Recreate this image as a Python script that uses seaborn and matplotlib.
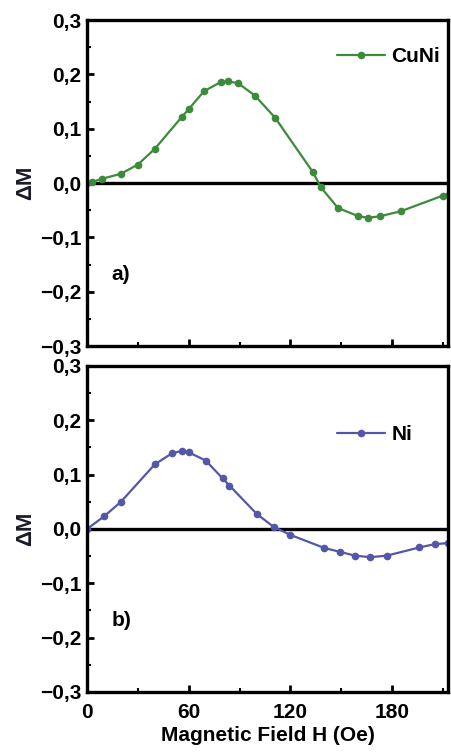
import numpy as np
import pandas as pd
import matplotlib
matplotlib.use("Agg")
import matplotlib.pyplot as plt
from matplotlib.ticker import MultipleLocator, FuncFormatter
import seaborn as sns

# dados
h_cuni = [0, 3, 9, 20, 30, 40, 56, 60, 69, 79, 83, 89, 99, 111, 133, 138, 148, 160, 166, 173, 185, 210, 214]
dm_cuni = [0.0, 0.002, 0.008, 0.017, 0.034, 0.063, 0.122, 0.136, 0.169, 0.186, 0.187, 0.184, 0.161, 0.120,
           0.021, -0.008, -0.046, -0.061, -0.064, -0.061, -0.052, -0.023, -0.019]

h_ni = [0, 10, 20, 40, 50, 56, 60, 70, 80, 84, 100, 110, 120, 140, 149, 158, 167, 177, 196, 205, 213]
dm_ni = [0.0, 0.023, 0.050, 0.119, 0.139, 0.144, 0.141, 0.126, 0.093, 0.080, 0.028, 0.004, -0.011,
         -0.035, -0.042, -0.049, -0.052, -0.049, -0.034, -0.028, -0.026]

series = [("CuNi", h_cuni, dm_cuni, "#3b8b3b", "a)"),
          ("Ni", h_ni, dm_ni, "#5457a8", "b)")]

sns.set_style("ticks")
plt.rcParams['font.family'] = ['Liberation Sans', 'DejaVu Sans']
plt.rcParams['font.weight'] = 'bold'
plt.rcParams['text.color'] = 'black'
plt.rcParams['axes.labelcolor'] = 'black'
plt.rcParams['xtick.color'] = 'black'
plt.rcParams['ytick.color'] = 'black'
plt.rcParams['axes.edgecolor'] = 'black'

fig = plt.figure(figsize=(4.52, 7.56), dpi=100)
posicoes = [[0.1925, 0.5423, 0.799, 0.4312], [0.1925, 0.0847, 0.799, 0.4312]]
legendas = [(1.028, 0.975), (0.952, 0.877)]

virgula = FuncFormatter(lambda v, p: ("%.1f" % v).replace(".", ",").replace("-", "\u2212"))

for i, (nome, h, dm, cor, letra) in enumerate(series):
    ax = fig.add_axes(posicoes[i])
    df = pd.DataFrame({"H": h, "dM": dm})
    sns.lineplot(data=df, x="H", y="dM", ax=ax, color=cor, marker="o", markersize=5.5,
                 markeredgewidth=0, linewidth=1.6, label=nome)
    ax.axhline(0, color="black", linewidth=2.4, zorder=1)
    ax.set_xlim(0, 213)
    ax.set_ylim(-0.3, 0.3)
    ax.yaxis.set_major_locator(MultipleLocator(0.1))
    ax.yaxis.set_minor_locator(MultipleLocator(0.05))
    ax.xaxis.set_major_locator(MultipleLocator(60))
    ax.xaxis.set_minor_locator(MultipleLocator(30))
    ax.yaxis.set_major_formatter(virgula)
    ax.tick_params(which="major", direction="in", length=5, width=2, labelsize=15, pad=4)
    ax.tick_params(axis="x", which="major", pad=8)
    ax.tick_params(which="minor", direction="in", length=3, width=1.5)
    for s in ax.spines.values():
        s.set_linewidth(2.4)
        s.set_visible(True)
    ax.set_ylabel("\u0394M", fontsize=16, fontweight="bold", color="#1a1a2a")
    ax.yaxis.set_label_coords(-0.14, 0.5)
    ax.text(0.068, 0.218, letra, transform=ax.transAxes, fontsize=15, fontweight="bold", va="center")
    ax.legend(loc="upper right", bbox_to_anchor=legendas[i], frameon=False, fontsize=15,
              handlelength=2.3, handletextpad=0.3, numpoints=1)
    if i == 0:
        ax.set_xlabel("")
        ax.set_xticklabels([])
    else:
        ax.set_xlabel("Magnetic Field H (Oe)", fontsize=15, fontweight="bold", labelpad=3)

fig.savefig("out.png", dpi=100)
